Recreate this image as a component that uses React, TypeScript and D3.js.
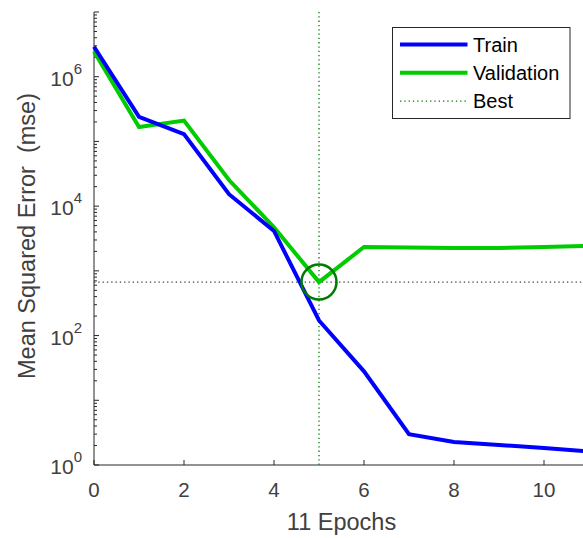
import { useEffect, useRef } from "react";
import * as d3 from "d3";

// values (log scale)
const epochs = [0, 1, 2, 3, 4, 5, 6, 7, 8, 9, 10, 11];
const trainMse = [2.9e6, 2.4e5, 1.3e5, 1.53e4, 4.14e3, 171, 28, 3.0, 2.27, 2.04, 1.83, 1.62];
const validationMse = [2.45e6, 1.67e5, 2.1e5, 2.53e4, 4.72e3, 670, 2340, 2300, 2250, 2260, 2330, 2440];
const bestEpoch = 5;
const xTicks = [0, 2, 4, 6, 8, 10];
const yLabelExps = [0, 2, 4, 6];
const legendItems = ["Train", "Validation", "Best"];

const FONT = "'Liberation Sans', Arial, Helvetica, sans-serif";

const App = () => {
  const svgRef = useRef<SVGSVGElement>(null);

  useEffect(() => {
    const height = 538;
    const margin = { left: 94, top: 12, bottom: 73 };

    const svg = d3.select(svgRef.current);
    svg.selectAll("*").remove();

    const x = d3.scaleLinear().domain([0, 11]).range([margin.left, margin.left + 495]);
    const y = d3
      .scaleLog()
      .domain([1, 1e7])
      .range([height - margin.bottom, margin.top]);

    const axisColor = "#262626";
    const textColor = "#404040";

    // log ticks
    const minor: number[] = [];
    for (let e = 0; e < 7; e++) {
      for (let m = 2; m <= 9; m++) minor.push(m * Math.pow(10, e));
    }
    const major = d3.range(0, 8).map((e) => Math.pow(10, e));

    const g = svg.append("g");

    g.selectAll("line.minor")
      .data(minor)
      .enter()
      .append("line")
      .attr("x1", x(0))
      .attr("x2", x(0) + 3)
      .attr("y1", (d) => y(d))
      .attr("y2", (d) => y(d))
      .attr("stroke", axisColor)
      .attr("stroke-width", 1);

    g.selectAll("line.major")
      .data(major)
      .enter()
      .append("line")
      .attr("x1", x(0))
      .attr("x2", x(0) + 5)
      .attr("y1", (d) => y(d))
      .attr("y2", (d) => y(d))
      .attr("stroke", axisColor)
      .attr("stroke-width", 1);

    g.selectAll("line.xtick")
      .data(xTicks)
      .enter()
      .append("line")
      .attr("x1", (d) => x(d))
      .attr("x2", (d) => x(d))
      .attr("y1", y(1))
      .attr("y2", y(1) - 5)
      .attr("stroke", axisColor);

    // axis lines
    g.append("line")
      .attr("x1", x(0))
      .attr("x2", x(0))
      .attr("y1", y(1e7))
      .attr("y2", y(1))
      .attr("stroke", axisColor);
    g.append("line")
      .attr("x1", x(0))
      .attr("x2", x(11))
      .attr("y1", y(1))
      .attr("y2", y(1))
      .attr("stroke", axisColor);

    // tick labels
    g.selectAll("text.xl")
      .data(xTicks)
      .enter()
      .append("text")
      .attr("x", (d) => x(d))
      .attr("y", y(1) + 32)
      .attr("text-anchor", "middle")
      .attr("font-family", FONT)
      .attr("font-size", 20.5)
      .attr("fill", textColor)
      .text((d) => d);

    const yl = g
      .selectAll("text.yl")
      .data(yLabelExps)
      .enter()
      .append("text")
      .attr("x", x(0) - 12)
      .attr("y", (d) => y(Math.pow(10, d)) + 9)
      .attr("text-anchor", "end")
      .attr("font-family", FONT)
      .attr("fill", textColor);
    yl.append("tspan").attr("font-size", 21).text("10");
    yl.append("tspan")
      .attr("font-size", 15)
      .attr("dy", -12)
      .text((d) => d);

    // axis titles
    g.append("text")
      .attr("x", (x(0) + x(11)) / 2)
      .attr("y", 530)
      .attr("text-anchor", "middle")
      .attr("font-family", FONT)
      .attr("font-size", 23.5)
      .attr("fill", textColor)
      .text("11 Epochs");

    g.append("text")
      .attr("transform", `translate(35,236) rotate(-90)`)
      .attr("text-anchor", "middle")
      .attr("font-family", FONT)
      .attr("font-size", 23.5)
      .attr("fill", textColor)
      .attr("xml:space", "preserve")
      .style("white-space", "pre")
      .text("Mean Squared Error  (mse)");

    const bestVal = validationMse[bestEpoch];

    // best guides
    g.append("line")
      .attr("x1", x(bestEpoch))
      .attr("x2", x(bestEpoch))
      .attr("y1", y(1e7))
      .attr("y2", y(1))
      .attr("stroke", "#007a00")
      .attr("stroke-width", 1.3)
      .attr("stroke-dasharray", "1.3 3");
    g.append("line")
      .attr("x1", x(0))
      .attr("x2", x(11))
      .attr("y1", y(bestVal))
      .attr("y2", y(bestVal))
      .attr("stroke", "#2f4a2f")
      .attr("stroke-width", 1.3)
      .attr("stroke-dasharray", "1.3 3");

    const line = d3
      .line<number>()
      .x((_, i) => x(epochs[i]))
      .y((d) => y(d));

    g.append("path")
      .attr("d", line(validationMse))
      .attr("fill", "none")
      .attr("stroke", "#00cc00")
      .attr("stroke-width", 4)
      .attr("stroke-linejoin", "miter");

    g.append("path")
      .attr("d", line(trainMse))
      .attr("fill", "none")
      .attr("stroke", "#0000ff")
      .attr("stroke-width", 4)
      .attr("stroke-linejoin", "miter");

    g.append("circle")
      .attr("cx", x(bestEpoch))
      .attr("cy", y(bestVal))
      .attr("r", 17.5)
      .attr("fill", "none")
      .attr("stroke", "#007a00")
      .attr("stroke-width", 2.5);

    // legend
    const lg = g.append("g");
    lg.append("rect")
      .attr("x", 392.5)
      .attr("y", 27.5)
      .attr("width", 177.5)
      .attr("height", 91)
      .attr("fill", "#fff")
      .attr("stroke", axisColor)
      .attr("stroke-width", 1);
    const styles = [
      { color: "#0000ff", w: 4, dash: null },
      { color: "#00cc00", w: 4, dash: null },
      { color: "#007a00", w: 1.3, dash: "1.3 3" },
    ];
    legendItems.forEach((name, i) => {
      const ly = 44.5 + i * 28.3;
      const s = styles[i];
      const l = lg
        .append("line")
        .attr("x1", 400)
        .attr("x2", 467.5)
        .attr("y1", ly)
        .attr("y2", ly)
        .attr("stroke", s.color)
        .attr("stroke-width", s.w);
      if (s.dash) l.attr("stroke-dasharray", s.dash);
      lg.append("text")
        .attr("x", 473)
        .attr("y", ly + 7)
        .attr("font-family", FONT)
        .attr("font-size", 20)
        .attr("fill", "#000")
        .text(name);
    });
  }, []);

  return (
    <svg
      ref={svgRef}
      width={583}
      height={538}
      style={{ position: "absolute", left: 0, top: 0, background: "#fff" }}
    ></svg>
  );
};

export default App;
